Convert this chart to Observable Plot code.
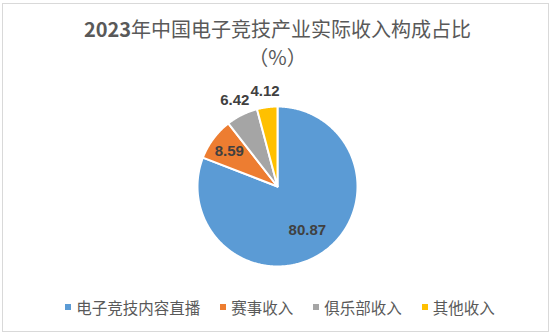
<!DOCTYPE html>
<html><head><meta charset="utf-8">
<script src="https://cdn.jsdelivr.net/npm/d3@7"></script>
<script src="https://cdn.jsdelivr.net/npm/@observablehq/plot@0.6"></script>
<style>
html,body{margin:0;padding:0;background:#fff;}
#wrap{position:relative;width:555px;height:336px;overflow:hidden;font-family:"Noto Sans CJK SC","Noto Sans",sans-serif;}
#frame{position:absolute;left:2px;top:3px;width:547px;height:329px;border:1px solid #d9d9d9;box-sizing:border-box;}
#title{position:absolute;left:0;top:15px;width:555px;text-align:center;color:#595959;font-size:20px;line-height:28px;}
#title b{font-weight:bold;}
#legend{position:absolute;left:0;top:296px;width:560px;display:flex;justify-content:center;gap:20px;color:#595959;font-size:15.5px;line-height:22px;}
#legend .it{display:flex;align-items:center;}
#legend .sw{width:6px;height:6px;margin-right:5px;}
#chart{position:absolute;left:0;top:0;}
</style></head>
<body><div id="wrap"><div id="frame"></div><div id="chart"></div>
<div id="title"><b>2023</b>年中国电子竞技产业实际收入构成占比<br>（%）</div>
<div id="legend"></div></div>
<script>
const categories = ["电子竞技内容直播", "赛事收入", "俱乐部收入", "其他收入"];
const values = [80.87, 8.59, 6.42, 4.12];
const colors = ["#5B9BD5", "#ED7D31", "#A5A5A5", "#FFC000"];

const data = categories.map((c, i) => ({category: c, value: values[i]}));
const arcs = d3.pie().sort(null).value(d => d.value)(data);

function pt(a, r) { return [Math.sin(a) * r, -Math.cos(a) * r]; }
const features = arcs.map(a => {
  const n = Math.max(4, Math.ceil((a.endAngle - a.startAngle) / 0.01));
  const ring = [[0, 0]];
  for (let k = 0; k <= n; k++) ring.push(pt(a.startAngle + (a.endAngle - a.startAngle) * k / n, 1));
  ring.push([0, 0]);
  return {type: "Feature", properties: {category: a.data.category}, geometry: {type: "Polygon", coordinates: [ring]}};
});
const labels = arcs.map(a => {
  const mid = (a.startAngle + a.endAngle) / 2;
  const inside = a.data.value >= 8;
  const r = a.data.value > 50 ? 0.66 : inside ? 0.75 : 1.2;
  const [x, y] = pt(mid, r);
  return {x, y, text: a.data.value.toFixed(2)};
});

const R = 80, cx = 277, cy = 186;
const chart = Plot.plot({
  width: 555, height: 336,
  margin: 0,
  projection: () => d3.geoIdentity().scale(R).translate([cx, cy]),
  color: {domain: categories, range: colors},
  marks: [
    Plot.geo(features, {fill: d => d.properties.category, stroke: "white", strokeWidth: 2}),
    Plot.text(labels, {x: "x", y: "y", text: "text", fill: "#404040", fontSize: 15, fontWeight: "bold", fontFamily: "Liberation Sans, Arial, sans-serif"})
  ]
});
document.getElementById("chart").appendChild(chart);

const lg = document.getElementById("legend");
categories.forEach((c, i) => {
  const it = document.createElement("div"); it.className = "it";
  const sw = document.createElement("span"); sw.className = "sw"; sw.style.background = colors[i];
  const t = document.createElement("span"); t.textContent = c;
  it.appendChild(sw); it.appendChild(t); lg.appendChild(it);
});
</script></body></html>
